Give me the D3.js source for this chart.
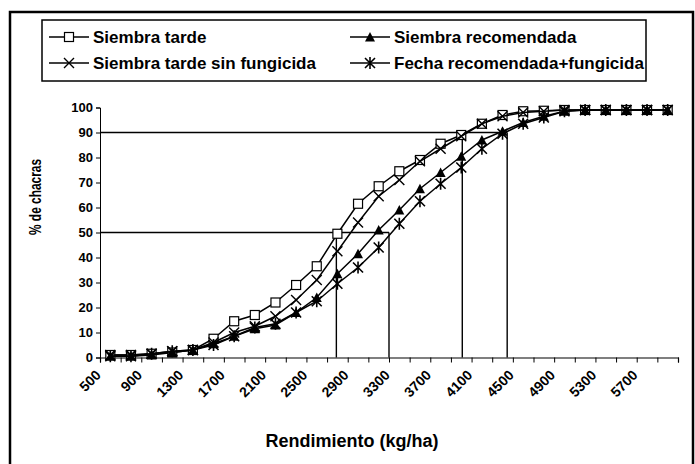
<!DOCTYPE html>
<html>
<head>
<meta charset="utf-8">
<script src="https://cdn.jsdelivr.net/npm/d3@7"></script>
<style>
  body { margin: 0; background: #fff; }
  text { font-family: "Liberation Sans", Arial, sans-serif; font-weight: bold; fill: #000; }
</style>
</head>
<body>
<svg width="695" height="464"></svg>
<script>
// Categories (kg/ha) and labels shown on the axis
let yields = [500, 700, 900, 1100, 1300, 1500, 1700, 1900, 2100, 2300, 2500, 2700, 2900, 3100,
              3300, 3500, 3700, 3900, 4100, 4300, 4500, 4700, 4900, 5100, 5300, 5500, 5700, 5900];
let tickLabels = [500, 900, 1300, 1700, 2100, 2500, 2900, 3300, 3700, 4100, 4500, 4900, 5300, 5700];
let yTicks = [0, 10, 20, 30, 40, 50, 60, 70, 80, 90, 100];

// % de chacras (cumulative)
let tarde = [1, 1, 1.5, 2, 3, 7.5, 14.5, 17, 22, 29, 36.5, 49.5, 61.5, 68.5,
             74.5, 79, 85.5, 89, 93.5, 97, 98.5, 98.7, 99, 99, 99, 99, 99, 99];
let recomendada = [0.5, 0.5, 1, 2, 3, 5.5, 8.5, 11.5, 13, 18, 24, 33.5, 41.5, 51,
                   59, 67.5, 74, 80.5, 87, 90.5, 94, 96.5, 98.5, 99, 99, 99, 99, 99];
let tardeSinFung = [1, 1, 1.5, 2.5, 3, 6, 10, 12.5, 16.5, 23, 31, 42.5, 54, 64.5,
                    71, 78.5, 83.5, 88.5, 93.5, 96.5, 98, 98.5, 99, 99, 99, 99, 99, 99];
let fechaFung = [0.5, 0.5, 1.5, 2.5, 3, 5, 8.5, 12, 13.5, 18, 22.5, 29.5, 36, 44,
                 53.5, 62.5, 69.5, 76, 83.5, 89.5, 93.5, 96, 98.5, 99, 99, 99, 99, 99];

// reference lines: yield reached at 50% and 90%
let ref50 = [2690, 3200];
let ref90 = [3910, 4345];

let series = [
  { name: "Siembra tarde", values: tarde, marker: "square" },
  { name: "Siembra recomendada", values: recomendada, marker: "triangle" },
  { name: "Siembra tarde sin fungicida", values: tardeSinFung, marker: "x" },
  { name: "Fecha recomendada+fungicida", values: fechaFung, marker: "star" }
];

let svg = d3.select("svg");
let plot = { left: 100, right: 678, top: 107.5, bottom: 357.5 };

let step = (yields[1] - yields[0]);
let x = d3.scaleLinear()
  .domain([yields[0] - step / 2, yields[yields.length - 1] + step / 2])
  .range([plot.left, plot.right]);
let y = d3.scaleLinear().domain([0, 100]).range([plot.bottom, plot.top]);

// outer frame
svg.append("rect")
  .attr("x", 10).attr("y", 12)
  .attr("width", 683).attr("height", 470)
  .attr("fill", "none").attr("stroke", "#000").attr("stroke-width", 2.5);

// reference lines
let refs = svg.append("g").attr("stroke", "#000").attr("stroke-width", 1.4);
refs.append("line")
  .attr("x1", plot.left).attr("x2", x(d3.max(ref50)))
  .attr("y1", y(50)).attr("y2", y(50));
refs.append("line")
  .attr("x1", plot.left).attr("x2", x(d3.max(ref90)))
  .attr("y1", y(90)).attr("y2", y(90));
refs.selectAll(".v50").data(ref50).enter().append("line")
  .attr("x1", d => x(d)).attr("x2", d => x(d))
  .attr("y1", y(50)).attr("y2", plot.bottom);
refs.selectAll(".v90").data(ref90).enter().append("line")
  .attr("x1", d => x(d)).attr("x2", d => x(d))
  .attr("y1", y(90)).attr("y2", plot.bottom);

// y axis
let yAxis = svg.append("g")
  .attr("transform", "translate(" + plot.left + ",0)")
  .call(d3.axisLeft(y).tickValues(yTicks).tickSize(4).tickPadding(3));
yAxis.select(".domain").attr("stroke", "#000").attr("stroke-width", 1);
yAxis.selectAll("text").style("font-size", "13px");

// x axis: ticks between categories
let boundaries = yields.map(d => d - step / 2).concat([yields[yields.length - 1] + step / 2]);
let xAxis = svg.append("g")
  .attr("transform", "translate(0," + plot.bottom + ")")
  .call(d3.axisBottom(x).tickValues(boundaries).tickSize(5).tickFormat(""));
xAxis.select(".domain").attr("stroke", "#000").attr("stroke-width", 1.2);

svg.append("g").selectAll("text")
  .data(tickLabels).enter().append("text")
  .attr("transform", d => "translate(" + (x(d) - 12) + "," + (plot.bottom + 15) + ")rotate(-45)")
  .attr("text-anchor", "end")
  .attr("dy", "0.35em")
  .style("font-size", "14px")
  .text(d => d);

// axis titles
svg.append("text")
  .attr("x", 352).attr("y", 447)
  .attr("text-anchor", "middle")
  .style("font-size", "18px")
  .text("Rendimiento (kg/ha)");

svg.append("text")
  .attr("transform", "translate(41,197)rotate(-90)")
  .attr("text-anchor", "middle")
  .attr("textLength", 76)
  .attr("lengthAdjust", "spacingAndGlyphs")
  .style("font-size", "17px")
  .text("% de chacras");

// markers
function drawMarker(g, type) {
  if (type === "square") {
    g.append("rect").attr("x", -4.5).attr("y", -4.5).attr("width", 9).attr("height", 9)
      .attr("fill", "#fff").attr("stroke", "#000").attr("stroke-width", 1.2);
  } else if (type === "triangle") {
    g.append("path").attr("d", "M0,-5L5,4.5L-5,4.5Z").attr("fill", "#000");
  } else if (type === "x") {
    g.append("path").attr("d", "M-5,-5L5,5M-5,5L5,-5")
      .attr("stroke", "#000").attr("stroke-width", 1.4).attr("fill", "none");
  } else {
    g.append("path").attr("d", "M-5,-5L5,5M-5,5L5,-5M0,-6L0,6")
      .attr("stroke", "#000").attr("stroke-width", 1.6).attr("fill", "none");
  }
}

let line = d3.line()
  .x((d, i) => x(yields[i]))
  .y(d => y(d));

series.forEach(s => {
  let g = svg.append("g");
  g.append("path")
    .datum(s.values)
    .attr("d", line)
    .attr("fill", "none")
    .attr("stroke", "#000")
    .attr("stroke-width", 1.5);
  s.values.forEach((v, i) => {
    let m = g.append("g").attr("transform", "translate(" + x(yields[i]) + "," + y(v) + ")");
    drawMarker(m, s.marker);
  });
});

// legend
let legend = svg.append("g");
legend.append("rect")
  .attr("x", 42).attr("y", 20).attr("width", 604).attr("height", 61)
  .attr("fill", "#fff").attr("stroke", "#000").attr("stroke-width", 1.5);

let legendPos = [
  { x: 49, y: 37 }, { x: 350, y: 37 },
  { x: 49, y: 63 }, { x: 350, y: 63 }
];
series.forEach((s, i) => {
  let p = legendPos[i];
  let g = legend.append("g").attr("transform", "translate(" + p.x + "," + p.y + ")");
  g.append("line").attr("x1", 0).attr("x2", 40).attr("y1", 0).attr("y2", 0)
    .attr("stroke", "#000").attr("stroke-width", 1.5);
  drawMarker(g.append("g").attr("transform", "translate(20,0)"), s.marker);
  g.append("text")
    .attr("x", 44).attr("dy", "0.35em")
    .style("font-size", "17px")
    .text(s.name);
});
</script>
</body>
</html>
